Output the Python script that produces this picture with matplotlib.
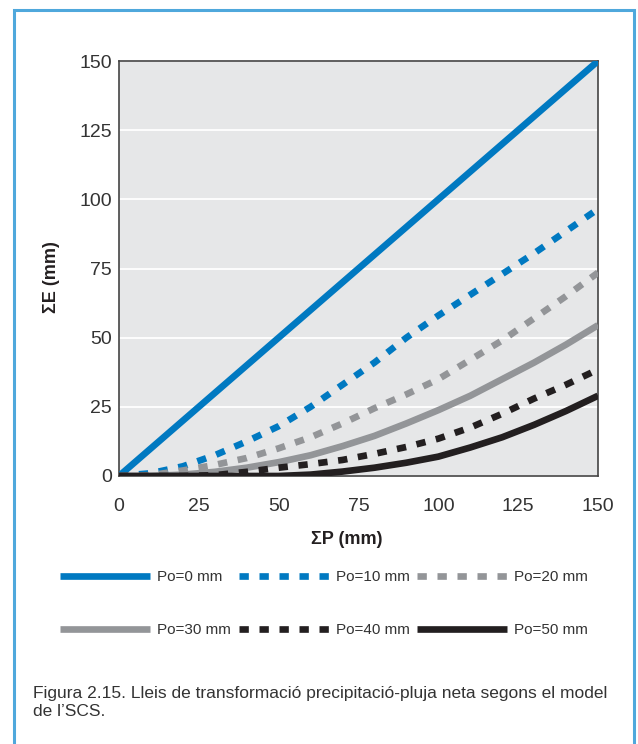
import matplotlib
matplotlib.use("Agg")
import matplotlib.pyplot as plt
from matplotlib.patches import Rectangle

plt.rcParams['font.family'] = ['Liberation Sans', 'DejaVu Sans']

# precipitation (mm) and net rain for each initial abstraction Po
p = [0, 10, 20, 30, 40, 50, 60, 70, 80, 90, 100, 110, 120, 130, 140, 150]
e_po0 = [0, 10, 20, 30, 40, 50, 60, 70, 80, 90, 100, 110, 120, 130, 140, 150]
e_po10 = [0, 1, 3.5, 7.5, 12.5, 18, 25, 33, 41, 50, 58, 65.5, 73, 80.5, 88.5, 96.5]
e_po20 = [0, 0.3, 2, 4, 6.5, 10, 14, 19, 24.5, 29.5, 35, 42, 49, 57, 65, 73.5]
e_po30 = [0, 0, 0.5, 1.5, 3, 5, 7.5, 10.8, 14.5, 19, 23.8, 29, 35, 41, 47.5, 54.5]
e_po40 = [0, 0, 0, 0.3, 1.5, 3, 4.3, 5.8, 8, 10.5, 13.5, 17.5, 22.5, 28, 33, 38.5]
e_po50 = [0, 0, 0, 0, 0, 0, 0.5, 1.6, 3, 4.8, 7, 10.3, 14, 18.5, 23.5, 29]
labels = ["Po=0 mm", "Po=10 mm", "Po=20 mm", "Po=30 mm", "Po=40 mm", "Po=50 mm"]
ticks = [0, 25, 50, 75, 100, 125, 150]
caption = ("Figura 2.15. Lleis de transformació precipitació-pluja neta segons el model\n"
           "de l\u2019SCS.")

blue = "#0079c1"
grey = "#939598"
black = "#231f20"
dash = (0, (1.4, 1.6))

fig = plt.figure(figsize=(6.38, 7.44), dpi=100)
ax = fig.add_axes([119 / 638, 1 - 476 / 744, 479 / 638, 415 / 744])
ax.set_facecolor("#e6e7e8")

series = [
    (e_po0, blue, "-"),
    (e_po10, blue, dash),
    (e_po20, grey, dash),
    (e_po30, grey, "-"),
    (e_po40, black, dash),
    (e_po50, black, "-"),
]
handles = []
for (vals, col, ls), lab in zip(series, labels):
    h, = ax.plot(p, vals, color=col, linestyle=ls, lw=4.8, label=lab,
                 solid_capstyle="butt", dash_capstyle="butt", zorder=3)
    handles.append(h)

ax.set_xlim(0, 150)
ax.set_ylim(0, 150)
ax.set_xticks(ticks)
ax.set_yticks(ticks)
ax.yaxis.grid(True, color="white", lw=1.3)
ax.set_axisbelow(True)
for s in ax.spines.values():
    s.set_color("#444444")
    s.set_linewidth(1.2)
ax.tick_params(axis="both", length=0, labelsize=14, labelcolor="#333333")
ax.tick_params(axis="x", pad=16)
ax.tick_params(axis="y", pad=5)

ax.set_xlabel("\u03a3P (mm)", fontsize=13, fontweight="bold", color="#231f20")
ax.set_ylabel("\u03a3E (mm)", fontsize=13, fontweight="bold", color="#231f20")
ax.xaxis.set_label_coords((347 - 119) / 479, (476 - 531) / 415)
ax.yaxis.set_label_coords((60 - 119) / 479, (476 - 277) / 415)

# legend: 2 rows x 3 columns, filled row-wise
order = [0, 3, 1, 4, 2, 5]
fig.legend([handles[i] for i in order], [labels[i] for i in order],
           ncol=3, loc="upper left", bbox_to_anchor=(60 / 638, 1 - 570 / 744),
           frameon=False, fontsize=11, handlelength=5.9, handletextpad=0.45,
           columnspacing=0.5, labelspacing=2.55, borderpad=0, borderaxespad=0,
           labelcolor="#333333")

fig.text(33 / 638, 1 - 686 / 744, caption, fontsize=12.5, color="#333333",
         va="top", ha="left", linespacing=1.25)

fig.patches.append(Rectangle((14 / 638, -0.05), 620 / 638, 1 - 10 / 744 + 0.05,
                             transform=fig.transFigure, fill=False,
                             edgecolor="#4fa8dc", lw=2.2))

fig.savefig("out.png", dpi=100)
